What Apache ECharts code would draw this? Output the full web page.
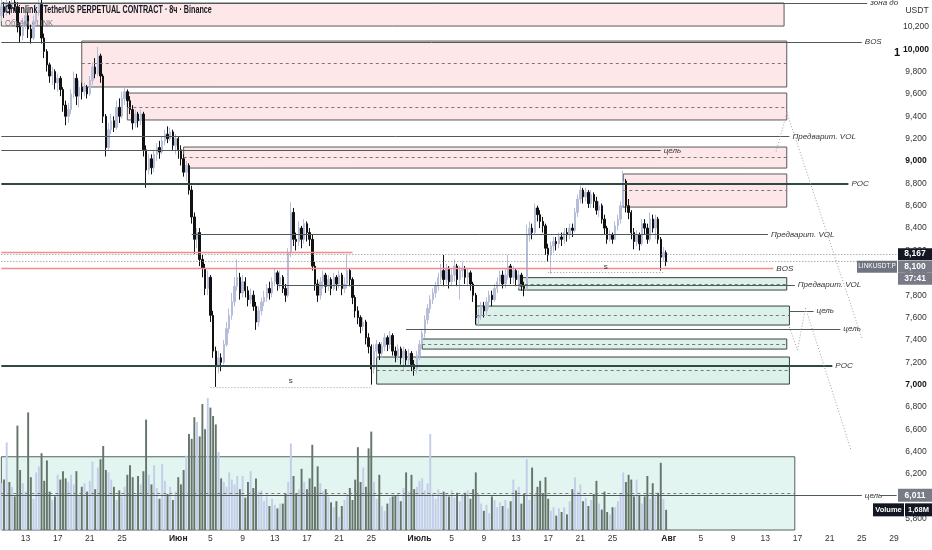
<!DOCTYPE html>
<html><head><meta charset="utf-8">
<script src="https://cdn.jsdelivr.net/npm/echarts@6/dist/echarts.min.js"></script>
<style>html,body{margin:0;padding:0;background:#fff}#c{width:932px;height:550px}</style>
</head><body><div id="c"></div>
<script>
// ---------- DATA ----------
const startDate = Date.UTC(2023, 4, 10); // first 8h slot: 10 May 00:00
const slotCount = 335;                   // 8h slots on the time axis (to ~30 Aug)
const firstOpen = 10.30;

const closes = [
10.38,10.33,10.40,10.36,10.42,10.38,10.20,10.12,10.22,10.30,10.18,10.10,10.25,10.34,10.40,10.10,9.98,
9.86,9.76,9.80,9.70,9.74,9.64,9.50,9.40,9.46,9.60,9.74,9.58,9.66,9.62,9.66,9.60,9.72,9.84,9.78,9.94,9.76,
9.40,9.12,9.28,9.36,9.30,9.48,9.40,9.56,9.62,9.54,9.46,9.34,9.42,9.36,9.42,9.10,
8.92,9.02,8.94,9.06,9.12,9.08,9.18,9.24,9.20,9.26,9.14,9.20,9.10,9.02,8.90,8.96,8.74,
8.50,8.30,8.36,8.12,8.04,7.86,7.96,7.62,7.30,7.16,7.24,7.20,7.36,7.50,7.62,7.74,7.88,7.96,7.82,7.92,
7.84,7.76,7.80,7.70,7.56,7.66,7.74,7.78,7.86,7.82,7.92,8.00,7.90,7.96,7.86,7.80,
8.18,8.54,8.30,8.28,8.40,8.30,8.44,8.36,8.30,8.06,7.90,7.80,
7.92,7.98,7.88,7.94,7.86,7.96,7.90,7.98,7.86,7.90,8.02,7.94,7.78,7.66,7.60,7.52,7.56,7.42,7.34,7.14,7.30,
7.36,7.28,7.34,7.42,7.36,7.44,7.30,7.26,7.32,7.24,7.30,7.22,7.28,7.18,7.14,7.26,7.36,7.46,
7.58,7.68,7.76,7.82,7.88,7.96,8.02,7.94,8.04,7.92,7.98,8.06,7.94,8.02,8.04,7.96,8.00,7.90,7.80,7.60,7.62,
7.70,7.66,7.74,7.80,7.76,7.86,7.92,7.98,7.90,7.98,8.06,7.96,8.02,7.94,7.98,7.88,7.86,
8.34,8.40,8.36,8.58,8.52,8.46,8.42,8.22,8.16,8.24,8.28,8.26,8.32,8.30,8.36,8.34,8.40,8.38,8.54,8.66,8.74,
8.68,8.72,8.62,8.70,8.64,8.56,8.60,8.48,8.40,8.30,8.34,8.30,8.42,8.48,8.60,8.82,
8.60,8.54,8.36,8.28,8.34,8.26,8.44,8.40,8.30,8.48,8.40,8.48,8.30,8.14,8.18,8.10];

const highs = [
10.44,10.42,10.44,10.43,10.44,10.44,10.42,10.24,10.28,10.36,10.33,10.22,10.30,10.40,10.44,10.44,10.14,
10.00,9.88,9.84,9.82,9.78,9.76,9.66,9.54,9.52,9.64,9.80,9.78,9.72,9.70,9.70,9.68,9.76,9.88,9.92,10.02,9.96,
9.78,9.42,9.34,9.42,9.40,9.54,9.56,9.62,9.66,9.64,9.58,9.50,9.46,9.44,9.46,9.44,
9.14,9.06,9.06,9.10,9.16,9.18,9.22,9.28,9.31,9.30,9.28,9.24,9.22,9.14,9.06,9.00,8.98,
8.78,8.54,8.40,8.40,8.16,8.08,8.02,7.98,7.66,7.34,7.30,7.28,7.40,7.56,7.68,7.82,7.96,8.12,8.00,7.98,
7.96,7.88,7.86,7.84,7.74,7.70,7.78,7.84,7.90,7.92,7.96,8.04,8.02,8.02,7.98,7.90,
8.22,8.63,8.58,8.36,8.46,8.42,8.48,8.46,8.40,8.34,8.10,7.94,
7.96,8.02,8.00,7.98,7.96,8.00,7.98,8.02,8.00,7.96,8.16,8.04,7.96,7.80,7.70,7.62,7.60,7.58,7.46,7.36,7.36,
7.40,7.38,7.38,7.46,7.44,7.48,7.46,7.34,7.36,7.34,7.34,7.32,7.32,7.30,7.22,7.30,7.40,7.50,
7.62,7.72,7.80,7.86,7.92,8.00,8.08,8.16,8.08,8.06,8.04,8.12,8.08,8.06,8.10,8.06,8.04,8.02,7.92,7.82,7.68,
7.74,7.74,7.78,7.84,7.84,7.90,7.96,8.02,8.02,8.04,8.16,8.08,8.06,8.04,8.02,8.00,7.92,
8.43,8.46,8.44,8.62,8.60,8.56,8.50,8.44,8.26,8.28,8.32,8.32,8.36,8.36,8.40,8.40,8.44,8.44,8.58,8.70,8.78,
8.76,8.76,8.74,8.74,8.72,8.68,8.64,8.62,8.52,8.42,8.38,8.36,8.46,8.52,8.64,8.91,
8.84,8.66,8.56,8.40,8.38,8.36,8.48,8.48,8.44,8.54,8.52,8.52,8.50,8.32,8.23,8.20];

const lows = [
10.25,10.28,10.30,10.31,10.33,10.34,10.15,10.06,10.08,10.18,10.10,10.05,10.08,10.22,10.30,10.05,9.92,
9.80,9.70,9.68,9.64,9.62,9.58,9.44,9.32,9.34,9.42,9.56,9.50,9.48,9.55,9.58,9.56,9.58,9.68,9.74,9.76,9.70,
9.34,9.04,9.10,9.24,9.26,9.28,9.34,9.38,9.50,9.48,9.42,9.28,9.30,9.30,9.32,9.04,
8.76,8.88,8.88,8.90,9.00,9.02,9.06,9.14,9.16,9.18,9.10,9.06,9.02,8.96,8.86,8.82,8.70,
8.44,8.17,8.22,8.06,7.96,7.80,7.80,7.56,7.24,6.98,7.10,7.12,7.18,7.34,7.46,7.58,7.70,7.84,7.76,7.78,
7.78,7.70,7.72,7.66,7.49,7.52,7.62,7.70,7.74,7.76,7.78,7.88,7.84,7.86,7.82,7.74,
7.78,8.14,8.24,8.20,8.24,8.22,8.26,8.28,8.24,8.02,7.84,7.74,
7.76,7.86,7.82,7.84,7.80,7.84,7.84,7.86,7.80,7.82,7.86,7.88,7.72,7.60,7.54,7.46,7.48,7.36,7.28,7.00,7.10,
7.24,7.22,7.24,7.30,7.30,7.32,7.26,7.20,7.22,7.18,7.12,7.16,7.18,7.12,7.08,7.10,7.22,7.32,
7.42,7.54,7.64,7.72,7.78,7.84,7.90,7.88,7.90,7.86,7.88,7.92,7.88,7.76,7.96,7.90,7.88,7.84,7.74,7.54,7.52,
7.58,7.60,7.62,7.68,7.70,7.74,7.82,7.88,7.86,7.86,7.94,7.90,7.90,7.88,7.86,7.84,7.79,
7.84,8.28,8.30,8.34,8.46,8.40,8.36,8.16,8.10,7.99,8.18,8.20,8.22,8.24,8.26,8.28,8.30,8.32,8.36,8.50,8.62,
8.62,8.64,8.58,8.58,8.58,8.52,8.50,8.44,8.34,8.26,8.28,8.26,8.30,8.38,8.44,8.58,
8.54,8.48,8.30,8.21,8.24,8.20,8.24,8.34,8.26,8.28,8.36,8.30,8.26,8.02,8.10,8.06];

// volume, millions
const volumes = [
3.9,4.2,7.3,4.0,3.6,2.8,8.7,5.0,3.9,3.2,9.8,4.4,2.6,4.8,5.3,6.4,4.1,
5.8,3.2,2.5,2.8,4.6,4.2,4.9,4.3,4.0,4.6,3.8,4.9,2.9,3.6,3.9,3.2,4.1,5.7,3.4,5.2,5.9,
7.0,5.0,4.8,4.2,3.6,2.5,3.3,2.8,3.6,4.6,5.4,4.4,2.9,4.5,3.8,4.9,
9.2,4.6,3.8,5.4,3.5,2.6,5.5,4.1,3.0,3.6,2.5,3.2,4.4,3.8,5.0,6.2,8.0,
7.6,9.4,9.0,7.8,10.5,8.4,11.0,10.2,9.5,8.8,6.5,4.3,4.0,3.6,4.8,4.2,3.8,4.5,3.4,4.5,
2.7,4.0,4.9,3.5,4.3,3.2,3.3,2.4,2.8,2.0,2.6,2.1,1.8,2.2,2.2,3.0,
4.0,7.2,4.5,3.0,3.4,5.1,4.0,3.4,4.3,7.1,3.6,5.3,
3.9,3.2,3.4,2.8,2.3,1.9,2.4,1.1,2.0,2.5,3.0,3.5,2.5,4.2,6.9,4.0,5.2,3.6,6.8,8.2,4.0,
2.6,4.6,2.0,1.6,2.2,2.7,2.8,2.9,3.1,2.4,3.5,4.8,3.2,4.6,3.4,3.6,4.1,4.3,
3.3,3.9,8.0,3.1,2.6,3.4,2.9,3.2,3.0,2.8,3.3,2.7,3.1,2.4,3.0,3.1,3.3,2.6,3.4,4.8,3.0,
2.2,1.6,2.1,1.4,2.8,2.5,1.9,2.3,2.0,2.5,1.8,2.4,4.2,3.3,3.6,2.2,3.0,
5.9,2.5,5.2,3.0,3.6,4.1,3.0,4.4,2.6,1.6,1.9,1.2,1.8,1.5,1.9,1.3,2.4,3.4,4.4,3.2,3.8,
2.4,2.7,2.0,2.5,3.0,4.1,2.2,1.7,3.2,1.5,1.3,1.9,1.9,2.4,3.0,4.8,
4.0,4.6,4.2,2.8,4.2,2.9,2.2,2.8,4.5,2.6,3.9,2.8,3.1,5.6,2.6,1.68];

const timeTicks = [
['05-13','13'],['05-17','17'],['05-21','21'],['05-25','25'],['06-01','Июн'],['06-05','5'],['06-09','9'],
['06-13','13'],['06-17','17'],['06-21','21'],['06-25','25'],['07-01','Июль'],['07-05','5'],['07-09','9'],
['07-13','13'],['07-17','17'],['07-21','21'],['07-25','25'],['08-01','Авг'],['08-05','5'],['08-09','9'],
['08-13','13'],['08-17','17'],['08-21','21'],['08-25','25'],['08-29','29']];
const monthTicks = ['Июн','Июль','Авг'];
const priceTicks = [5.8,6.0,6.2,6.4,6.6,6.8,7.0,7.2,7.4,7.6,7.8,8.0,8.2,8.4,8.6,8.8,9.0,9.2,9.4,9.6,9.8,10.0,10.2];

// horizontal levels: [price, fromSlot, toSlot, label, kind]
const levels = [
[10.413,0,323,'зона до','thin'],
[10.064,0,321,'BOS','thin'],
[9.217,0,294,'Предварит. VOL','thin'],
[9.092,0,246,'цель','thin'],
[8.799,0,316,'POC','poc'],
[8.344,71,286,'Предварит. VOL','thin'],
[8.180,0,131,'','red'],
[8.038,0,288,'BOS','red'],
[8.167,0,334,'','dot'],
[8.100,0,334,'','dot'],
[7.891,103,296,'Предварит. VOL','thin'],
[7.658,294,303,'цель','thin'],
[7.497,151,313,'цель','thin'],
[7.171,0,310,'POC','poc'],
[6.007,0,321,'цель','thin'],
[6.007,328,334,'','thin']];

// zones: [kind, fromSlot, toSlot, topPrice, bottomPrice, midPrice]
const zones = [
['pink',0,292,10.413,10.207,null],
['pink',30,293,10.073,9.662,9.876],
['pink',47,293,9.608,9.367,9.483],
['pink',68,293,9.125,8.937,9.036],
['pink',232,293,8.884,8.588,8.736],
['green',193,293,7.957,7.846,7.900],
['green',177,294,7.703,7.533,7.622],
['green',157,293,7.408,7.318,7.363],
['green',140,294,7.247,7.005,7.130],
['vol',0,296,6.355,5.70,6.033]];

// projection paths (dotted): [[slot, price], [slot, price]]
const paths = [
[[293,9.438],[321,7.417]],
[[293,9.429],[289,9.080]],
[[294,7.515],[297,7.309]],
[[297,7.309],[300,7.685]],
[[300,7.685],[317,6.415]]];

// liquidity lines "s": [fromSlot, toSlot, price]
const sweeps = [[78,138,6.978],[204,247,8.001]];

// ---------- BUILD ----------
const pad = n => String(n).padStart(2,'0');
const categories = [];
for (let i = 0; i < slotCount; i++) {
  const d = new Date(startDate + i*8*3600e3);
  categories.push(pad(d.getUTCMonth()+1)+'-'+pad(d.getUTCDate())+' '+pad(d.getUTCHours()));
}
const tickMap = {}; timeTicks.forEach(t => tickMap[t[0]] = t[1]);
const opens = closes.map((c,i) => i === 0 ? firstOpen : closes[i-1]);
const candles = closes.map((c,i) => [opens[i], c, lows[i], highs[i]]);

const FONT = '"Liberation Sans Narrow","Liberation Sans",Arial,sans-serif';
const lblBase = {show:true, position:'end', color:'#333', fontSize:8, fontStyle:'italic', fontFamily:FONT, distance:3};
const kindStyle = {
  thin:{color:'#4e5c57', width:1, type:'solid'},
  poc:{color:'#2f4a42', width:2, type:'solid'},
  red:{color:'#f08d8d', width:1.3, type:'solid'},
  dot:{color:'#8a8a8a', width:1, type:[1,2]}
};
const mlData = [];
levels.forEach(l => {
  mlData.push([{coord:[l[1], l[0]], lineStyle:kindStyle[l[4]],
      label: l[3] ? Object.assign({}, lblBase, {formatter:l[3]}) : {show:false}},
    {coord:[l[2], l[0]]}]);
});
zones.forEach(z => {
  if (z[5] !== null) mlData.push([{coord:[z[1], z[5]], lineStyle:{color:'#777', width:1, type:[3,3]}, label:{show:false}}, {coord:[z[2], z[5]]}]);
});
paths.forEach(p => mlData.push([{coord:p[0], lineStyle:{color:'#a0a0a0', width:1, type:[1,2]}, label:{show:false}}, {coord:p[1]}]));
sweeps.forEach(s => mlData.push([{coord:[s[0], s[2]], lineStyle:{color:'#a0a0a0', width:1, type:[1,2]},
   label:{show:true, position:'insideMiddleTop', formatter:'s', color:'#333', fontSize:8, fontFamily:FONT, distance:2}}, {coord:[s[1], s[2]]}]));

const zoneFill = {pink:'#fde7e8', green:'#dcf1ea', vol:'#e3f5f1'};
const zoneBorder = {pink:'#5a5a5a', green:'#33443e', vol:'#52625c'};
const maData = zones.map(z => [{coord:[z[1], z[3]], itemStyle:{color:zoneFill[z[0]], borderColor:zoneBorder[z[0]], borderWidth:1}}, {coord:[z[2], z[4]]}]);

const fmtPrice = v => v.toFixed(3).replace('.', ',');

const chart = echarts.init(document.getElementById('c'), null, {renderer:'canvas'});
chart.setOption({
  animation:false,
  backgroundColor:'#ffffff',
  grid:{left:0, right:34, top:0, bottom:20},
  xAxis:{type:'category', data:categories, boundaryGap:true,
    axisLine:{show:false}, axisTick:{show:false}, splitLine:{show:false},
    axisLabel:{margin:4, color:'#333', fontSize:8.5, fontFamily:FONT,
      interval:(idx, val) => tickMap[val.slice(0,5)] !== undefined && val.slice(6) === '00',
      formatter: val => { const t = tickMap[val.slice(0,5)]; return monthTicks.indexOf(t) >= 0 ? '{b|'+t+'}' : t; },
      rich:{b:{fontWeight:'bold', fontSize:8.5, color:'#222', fontFamily:FONT}}}},
  yAxis:[
    {type:'value', position:'right', min:5.70, max:10.44, scale:true,
      axisLine:{show:false}, axisTick:{show:false}, splitLine:{show:false},
      axisLabel:{customValues:priceTicks, margin:18, align:'center', color:'#333', fontSize:8.5, fontFamily:FONT,
        formatter: v => { const s = fmtPrice(v); return Math.abs(v - Math.round(v)) < 1e-6 ? '{b|'+s+'}' : s; },
        rich:{b:{fontWeight:'bold', fontSize:8.5, color:'#111', fontFamily:FONT}}}},
    {type:'value', show:false, min:0, max:530/12}
  ],
  series:[
    {type:'line', data:[], yAxisIndex:0, z:1, silent:true,
      markArea:{silent:true, data:maData},
      markLine:{silent:true, symbol:['none','none'], animation:false, data:mlData}},
    {type:'bar', name:'Volume', data:volumes, yAxisIndex:1, z:2, barWidth:'72%', silent:true,
      itemStyle:{color: p => closes[p.dataIndex] >= opens[p.dataIndex] ? '#c3cde9' : '#66756b'}},
    {type:'candlestick', data:candles, yAxisIndex:0, z:3, barWidth:'72%', silent:true,
      itemStyle:{color:'#b5bdd8', color0:'#111111', borderColor:'#b5bdd8', borderColor0:'#111111', borderWidth:1}}
  ]
});

// badges positioned via the axes
const yP = v => chart.convertToPixel({yAxisIndex:0}, v);
const yV = v => chart.convertToPixel({yAxisIndex:1}, v);
const axX = 932 - 34;
const lastClose = closes[closes.length-1];
const lastVol = volumes[volumes.length-1];
function badge(x, yc, w, h, fill, text, fs, fw) {
  return [
    {type:'rect', z:200, shape:{x:x, y:yc-h/2, width:w, height:h}, style:{fill:fill}},
    {type:'text', z:201, style:{x:x+w/2, y:yc, text:text, fill:'#fff', fontSize:fs || 8.5, fontWeight:fw || 'bold', fontFamily:FONT, align:'center', verticalAlign:'middle'}}
  ];
}
const yLast = yP(lastClose) + 5;
const gfx = [
  {type:'text', z:200, x:5, y:5, scaleX:0.72, style:{x:0, y:0, text:'Chainlink / TetherUS PERPETUAL CONTRACT · 8ч · Binance', fill:'#131722', fontSize:10, fontWeight:'bold', fontFamily:FONT}},
  {type:'text', z:200, x:5, y:19, scaleX:0.85, style:{x:0, y:0, text:'Объём · LINK', fill:'#787b86', fontSize:9, fontFamily:FONT}},
  {type:'text', z:200, style:{x:917, y:11, text:'USDT', fill:'#333', fontSize:8.5, fontFamily:FONT, align:'center', verticalAlign:'middle'}},
  {type:'text', z:200, style:{x:897, y:53, text:'1', fill:'#111', fontSize:11, fontWeight:'bold', fontFamily:FONT, align:'center', verticalAlign:'middle'}}
].concat(
  badge(axX, yP(8.167), 34, 12, '#131722', fmtPrice(8.167)),
  badge(axX, yLast, 34, 12, '#787b86', fmtPrice(lastClose)),
  badge(axX, yLast+12, 34, 12, '#787b86', '37:41'),
  badge(857, yLast, 40, 12, '#6f7480', 'LINKUSDT.P', 6.5, 'normal'),
  badge(axX, yP(6.011), 34, 13, '#787b86', fmtPrice(6.011)),
  badge(873, yV(lastVol), 31, 13, '#131722', 'Volume', 7.5),
  badge(905, yV(lastVol), 27, 13, '#131722', lastVol.toFixed(2).replace('.', ',') + 'M', 7.5)
);
chart.setOption({graphic:gfx});
</script></body></html>
